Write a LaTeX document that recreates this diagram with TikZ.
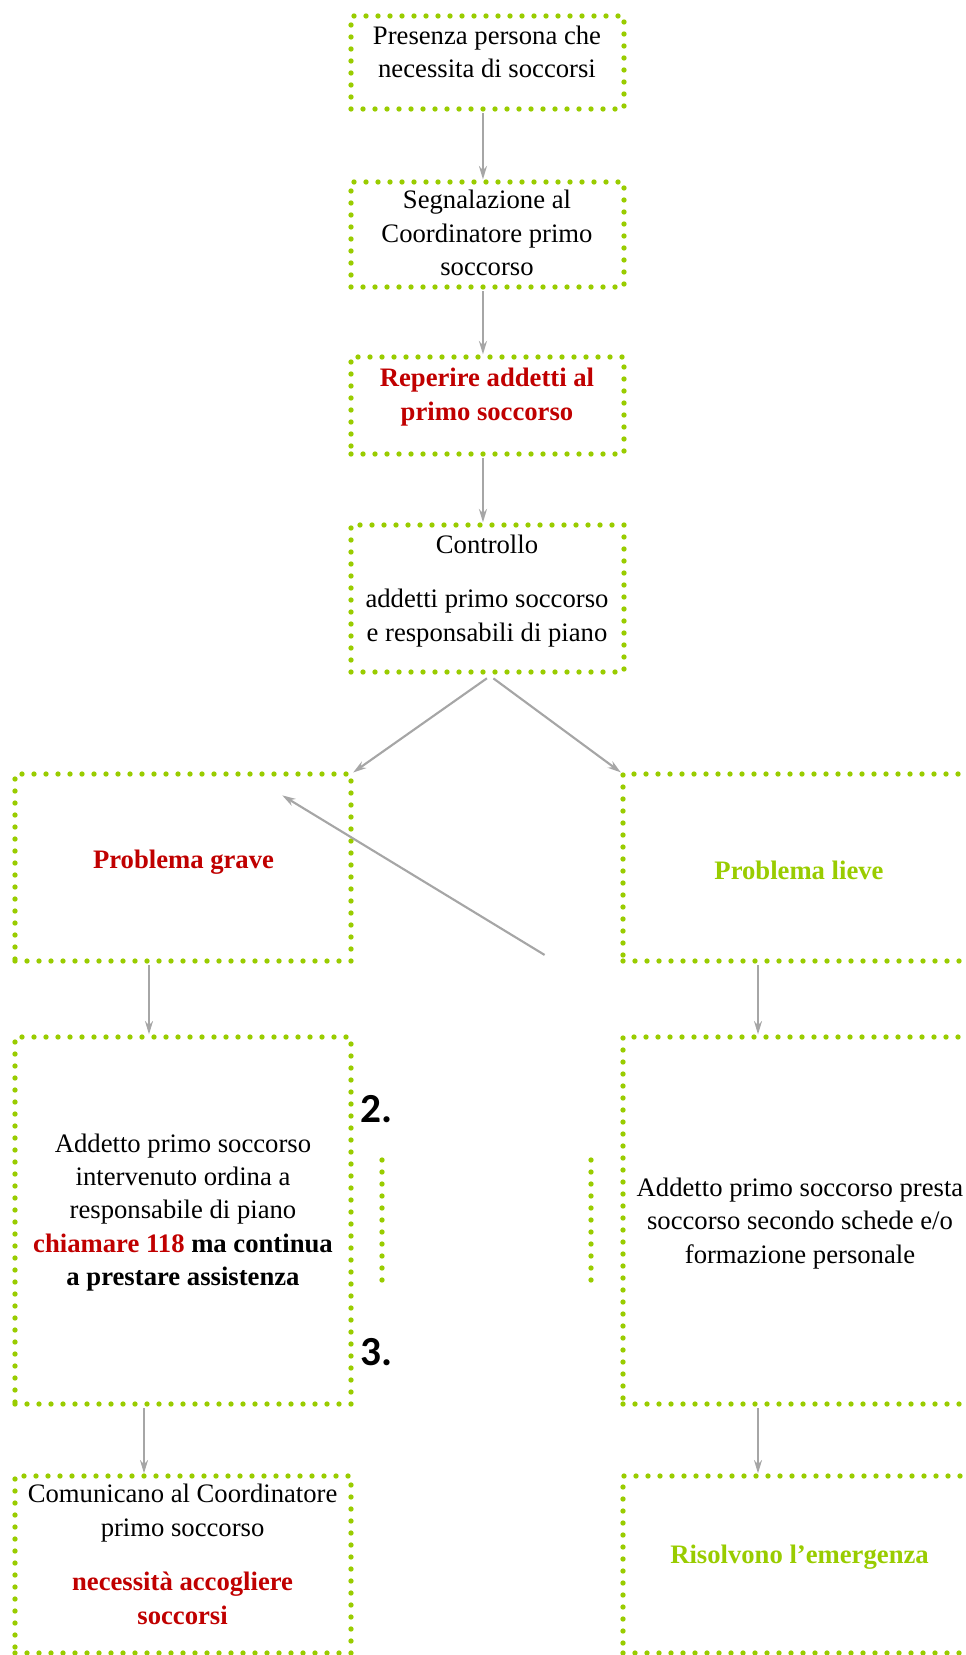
\documentclass[tikz,border=0pt]{standalone}
\usepackage{fontspec}
\setmainfont{Liberation Serif}
\newfontfamily\numfont{Carlito}
\usetikzlibrary{arrows.meta, positioning}
\definecolor{dotgreen}{RGB}{153,204,0}
\definecolor{alertred}{RGB}{192,0,0}
\definecolor{arrowgray}{RGB}{166,166,166}

\begin{document}
\begin{tikzpicture}[
    x=0.75pt, y=-0.75pt,
    box/.style={rectangle, draw=dotgreen, line width=4pt, line cap=round,
    dash pattern=on 0pt off 9pt, inner sep=0pt, outer sep=0pt},
    midbox/.style={box, minimum width=204.75pt},
    sidebox/.style={box, minimum width=252pt},
    rightbox/.style={box, minimum width=267pt},
    txt/.style={align=center, inner sep=0pt, font=\fontsize{20}{25}\selectfont},
    boldtxt/.style={txt, font=\fontsize{20}{25}\selectfont\bfseries},
    numtxt/.style={anchor=base west, inner sep=0pt,
    font=\numfont\fontsize{31}{36}\selectfont\bfseries},
    dotline/.style={draw=dotgreen, line width=4pt, line cap=round,
    dash pattern=on 0pt off 9pt},
    arrow/.style={-{Stealth[length=10pt, width=6pt]}, draw=arrowgray,
    line width=1.6pt, shorten >=2pt, shorten <=3pt} ]

    \useasboundingbox (0,0) rectangle (966,1655);
    \clip (0,0) rectangle (966,1655);

    % Central column
    \node[midbox, minimum height=69.75pt] (presenza) at (487.5,62.5) {};
    \node[txt] (presenza_txt) at (487,51.9)
	    {Presenza persona che\\necessita di soccorsi};

    \node[midbox, minimum height=78.75pt] (segnalazione) at (487.5,234.5) {};
    \node[txt] (segnalazione_txt) at (487,232.9)
	    {Segnalazione al\\Coordinatore primo\\soccorso};

    \node[midbox, minimum height=72.75pt] (reperire) at (487.5,405.5) {};
    \node[boldtxt, text=alertred] (reperire_txt) at (487,397.2)
	    {Reperire addetti al\\primo soccorso};

    \node[midbox, minimum height=110.25pt] (controllo) at (487.5,598.5) {};
    \node[txt] (controllo_txt) at (487,590.8)
	    {Controllo\\[16pt]addetti primo soccorso\\e responsabili di piano};

    % Left branch
    \node[sidebox, minimum height=140.25pt] (grave) at (183,867.5) {};
    \node[boldtxt, text=alertred] (grave_txt) at (183.5,861.8) {Problema grave};

    \node[sidebox, minimum height=275.25pt] (intervenuto) at (183,1220.5) {};
    \node[txt] (intervenuto_txt) at (183,1212.3)
	    {Addetto primo soccorso\\intervenuto ordina a\\responsabile di piano\\
	    \textcolor{alertred}{\textbf{chiamare 118}} \textbf{ma continua}\\
	    \textbf{a prestare assistenza}};

    \node[sidebox, minimum height=132.75pt] (comunicano) at (183,1564.5) {};
    \node[txt] (comunicano_txt) at (182.6,1554.4)
	    {Comunicano al Coordinatore\\primo soccorso\\[16pt]
	    \textcolor{alertred}{\textbf{necessità accogliere}}\\
	    \textcolor{alertred}{\textbf{soccorsi}}};

    % Right branch
    \node[rightbox, minimum height=140.25pt] (lieve) at (801,867.5) {};
    \node[boldtxt, text=dotgreen] (lieve_txt) at (799,870.8) {Problema lieve};

    \node[rightbox, minimum height=275.25pt] (presta) at (801,1220.5) {};
    \node[txt] (presta_txt) at (800,1223.3)
	    {Addetto primo soccorso presta\\soccorso secondo schede e/o\\
	    formazione personale};

    \node[rightbox, minimum height=132.75pt] (risolvono) at (801,1564.5) {};
    \node[boldtxt, text=dotgreen] (risolvono_txt) at (799.5,1556.8)
	    {Risolvono l’emergenza};

    % Step numbers and short dotted rules
    \node[numtxt] (num_two) at (360,1122) {2.};
    \node[numtxt] (num_three) at (360,1365) {3.};
    \draw[dotline] (382,1160) -- (382,1281);
    \draw[dotline] (591,1160) -- (591,1281);

    % Arrows
    \draw[arrow] ([xshift=-3.4pt]presenza.south) -- ([xshift=-3.4pt]segnalazione.north);
    \draw[arrow] ([xshift=-3.4pt]segnalazione.south) -- ([xshift=-3.4pt]reperire.north);
    \draw[arrow] ([xshift=-3.4pt]reperire.south) -- ([xshift=-3.4pt]controllo.north);

    \coordinate (split) at ([xshift=2pt, yshift=-3pt]controllo.south);
    \draw[arrow] (split) -- (grave.north east);
    \draw[arrow] (split) -- (lieve.north west);

    \coordinate (back_start) at (548,957);
    \coordinate (back_end) at (280,794);
    \draw[arrow] (back_start) -- (back_end);

    \draw[arrow] ([xshift=-25.5pt]grave.south) -- ([xshift=-25.5pt]intervenuto.north);
    \draw[arrow] ([xshift=-32.25pt]lieve.south) -- ([xshift=-32.25pt]presta.north);
    \draw[arrow] ([xshift=-29.25pt]intervenuto.south) -- ([xshift=-29.25pt]comunicano.north);
    \draw[arrow] ([xshift=-32.25pt]presta.south) -- ([xshift=-32.25pt]risolvono.north);

  \end{tikzpicture}
\end{document}
